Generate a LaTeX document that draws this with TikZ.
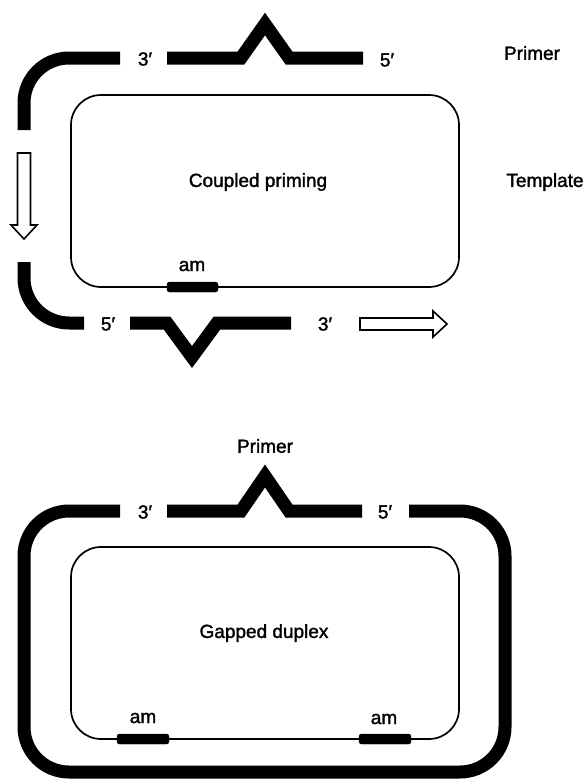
\documentclass[tikz,border=0pt]{standalone}
\usepackage{fontspec}
\newfontfamily\lblfont{Liberation Sans}[FakeBold=1.6]
\begin{document}
\begin{tikzpicture}[x=1pt,y=-1pt,
  strand/.style={line width=13pt, line cap=butt, line join=miter},
  templ/.style={line width=1.7pt, rounded corners=30pt},
  lbl/.style={inner sep=0pt, font=\lblfont\fontsize{19}{22}\selectfont},
  ammark/.style={fill=black, rounded corners=2.5pt},
  openarrow/.style={line width=1.6pt, fill=white, line join=miter}]
\useasboundingbox (0,0) rectangle (587,779);
% ---------- Coupled priming ----------
\draw[templ] (71,95) rectangle (459,287);
\node[lbl] (cp) at (258,182) {Coupled priming};
\node[lbl] (pr1) at (532,53) {Primer};
\node[lbl] (tp1) at (545,182) {Template};
% upper strand
\draw[strand, rounded corners=45pt] (24,130) -- (24,58) -- (120,58);
\node[lbl] (t3a) at (145,59) {3′};
\draw[strand] (167,58) -- (241,58) -- (265,24) -- (289,58) -- (363,58);
\node[lbl] (t5a) at (387,60) {5′};
% down arrow
\draw[openarrow] (17.5,153) -- (30.5,153) -- (30.5,225) -- (37,225) -- (24,239) -- (11,225) -- (17.5,225) -- cycle;
% lower strand
\draw[strand, rounded corners=45pt] (24,262) -- (24,323) -- (84,323);
\node[lbl] (b5a) at (108,324) {5′};
\draw[strand] (130,323) -- (167,323) -- (192,357) -- (217,323) -- (291,323);
\node[lbl] (b3a) at (325,324) {3′};
% right arrow
\draw[openarrow] (360,318) -- (433,318) -- (433,311) -- (447,324) -- (433,337) -- (433,330) -- (360,330) -- cycle;
% am marker
\draw[ammark] (167,282) rectangle (218,292);
\node[lbl] (am1) at (192,266) {am};
% ---------- Gapped duplex ----------
\draw[templ] (71,547) rectangle (459,739);
\node[lbl] (gd) at (264,633) {Gapped duplex};
\node[lbl] (pr2) at (265,446) {Primer};
\draw[strand, rounded corners=45pt] (120,511) -- (24,511) -- (24,772) -- (505,772) -- (505,511) -- (409,511);
\node[lbl] (t3b) at (145,512) {3′};
\draw[strand] (167,511) -- (241,511) -- (265,476) -- (289,511) -- (362,511);
\node[lbl] (t5b) at (385,512) {5′};
\draw[ammark] (117,734) rectangle (169,744);
\draw[ammark] (359,734) rectangle (411,744);
\node[lbl] (am2) at (143,718) {am};
\node[lbl] (am3) at (384,719) {am};
\end{tikzpicture}
\end{document}
